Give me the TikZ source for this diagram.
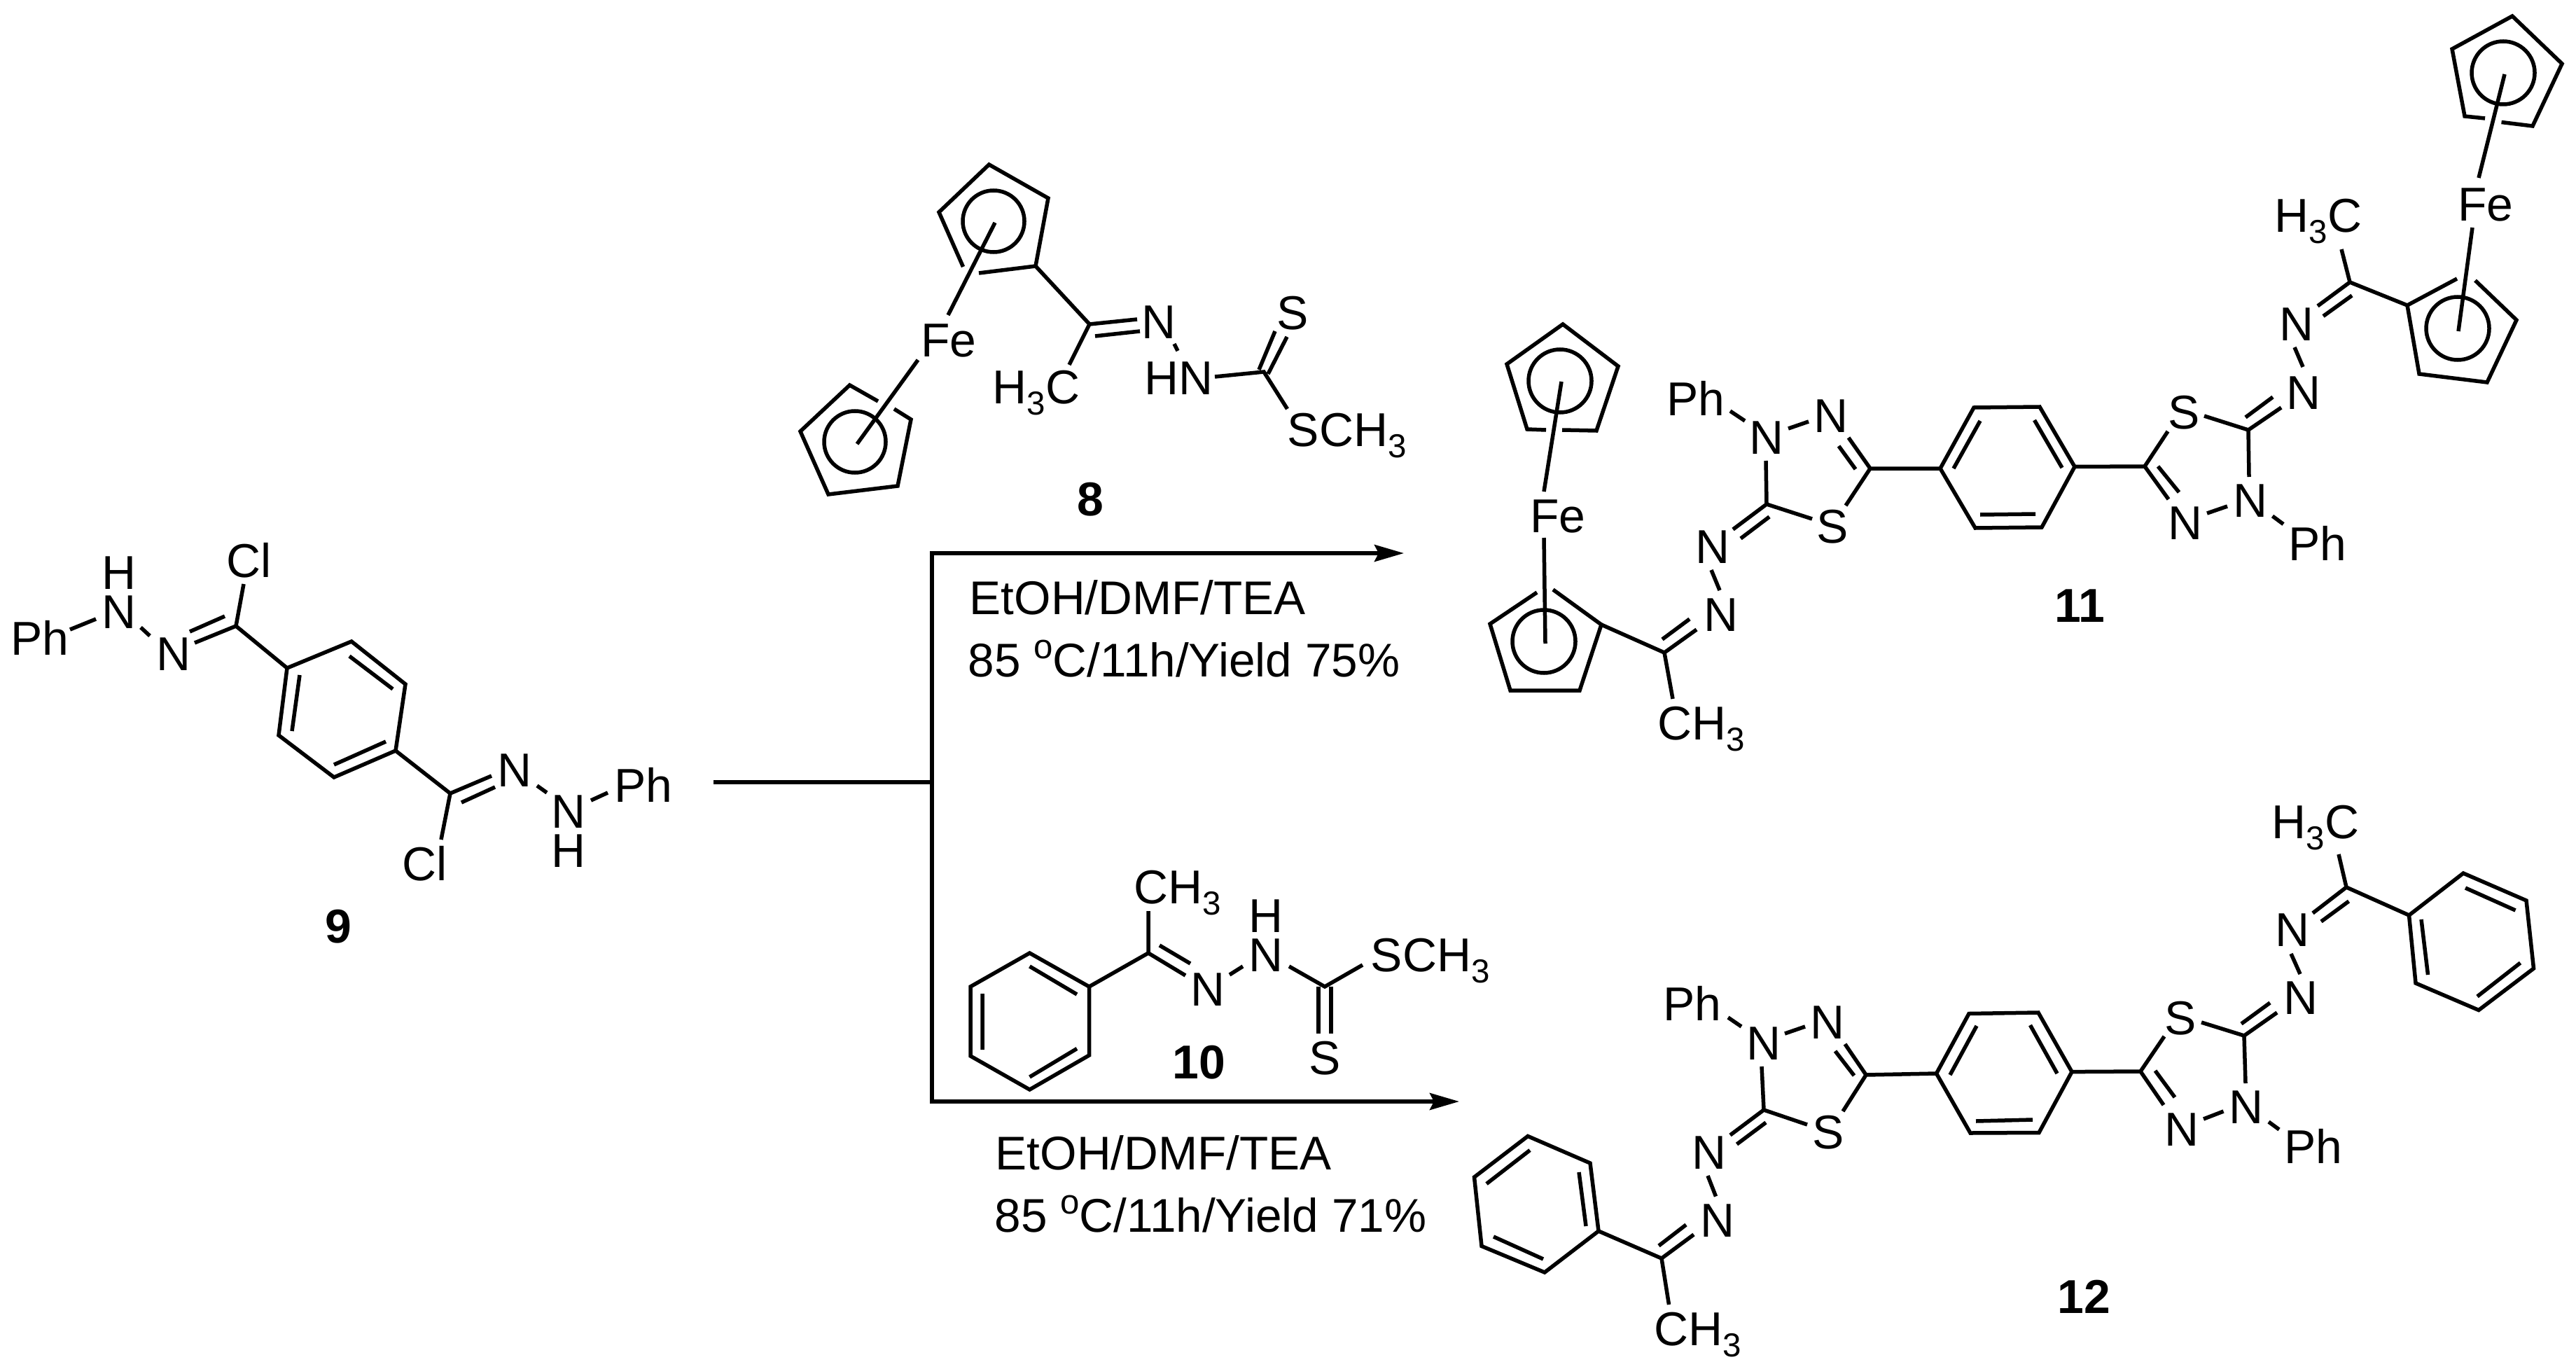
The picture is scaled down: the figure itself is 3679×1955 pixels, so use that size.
\documentclass[tikz,border=0pt]{standalone}
\usepackage{fontspec}
\setmainfont{Liberation Sans}
\usetikzlibrary{arrows.meta}
\newcommand\subn[1]{\raisebox{-0.24em}{\fontsize{13.5}{13.5}\selectfont #1}}
\newcommand\supo{\raisebox{0.38em}{\fontsize{14}{14}\selectfont o}}
\tikzset{
  bond/.style={line width=0.055cm,line cap=butt,line join=miter},
  atm/.style={inner sep=0pt,font=\fontsize{19.3}{19.3}\selectfont,text height=13.8pt,text depth=0pt},
  lbl/.style={inner sep=0pt,font=\fontsize{19.3}{19.3}\selectfont\bfseries,text height=13.8pt,text depth=0pt},
  cond/.style={inner sep=0pt,anchor=west,font=\fontsize{19.2}{19.2}\selectfont,text height=13.8pt,text depth=0pt},
  rxn/.style={line width=0.055cm,line cap=rect,-{Stealth[length=0.42cm,width=0.24cm,inset=0.06cm]}},
  rxnline/.style={line width=0.055cm,line cap=rect}
}
\begin{document}
\begin{tikzpicture}[x=0.01cm,y=-0.01cm]
\useasboundingbox (0,0) rectangle (3679,1955);
\fill[white] (0,0) rectangle (3679,1955);

% reaction arrows
\coordinate (a0) at (1022,1117);
\coordinate (aj) at (1331,1117);
\coordinate (at) at (1331,790);
\coordinate (ab) at (1331,1573);
\coordinate (t1) at (2005,790);
\coordinate (t2) at (2084,1573);
\draw[rxnline] (a0) -- (aj);
\draw[rxnline] (at) -- (ab);
\draw[rxn] (at) -- (t1);
\draw[rxn] (ab) -- (t2);

% ---------- 9 ----------
\node[atm] (p9a) at (57,911) {Ph};
\node[atm] (n9a) at (170,873) {N};
\node[atm] (h9a) at (170,817) {H};
\node[atm] (n9b) at (248,933) {N};
\node[atm] (cl9a) at (356,800) {Cl};
\node[atm] (cl9b) at (607,1233) {Cl};
\node[atm] (n9c) at (735,1099) {N};
\node[atm] (n9d) at (812,1158) {N};
\node[atm] (h9d) at (812,1214) {H};
\node[atm] (p9b) at (919,1121) {Ph};
\node[lbl] (l9) at (483,1322) {9};
\draw[bond] (410,954)--(502,916)--(579,977)--(565,1072)--(477,1110)--(398,1050)--cycle;
\draw[bond] (428,964)--(417,1044) (499,937)--(561,984) (551,1059)--(477,1092);
\draw[bond] (100,899)--(137,884) (201,896)--(214,908) (278,918)--(337,894)--(410,954);
\draw[bond] (271,902)--(321,880) (337,894)--(348,834);
\draw[bond] (565,1072)--(643,1133)--(702,1108) (659,1146)--(707,1124) (643,1133)--(630,1199);
\draw[bond] (767,1122)--(781,1132) (844,1143)--(868,1132);

% ---------- 8 ----------
\node[atm] (fe8) at (1355,485) {Fe};
\node[atm] (n8a) at (1655,459) {N};
\node[atm,anchor=west] (hc8) at (1417,552) {H\subn{3}C};
\node[atm] (hn8) at (1683,539) {HN};
\node[atm] (s8) at (1846,446) {S};
\node[atm,anchor=west] (sc8) at (1838,613) {SCH\subn{3}};
\node[lbl] (l8) at (1557,712) {8};
\draw[bond] (1375.5,381)--(1341,303)--(1412.5,235)--(1497,283)--(1479,380)--(1398,390);
\draw[bond] (1419,316) circle (44);
\draw[bond] (1421,318)--(1354,450) (1311,514)--(1224,634);
\draw[bond] (1254,573)--(1213.5,550)--(1143,616)--(1183,706)--(1282,694)--(1301,599)--(1277,584);
\draw[bond] (1221,631) circle (44);
\draw[bond] (1479,380)--(1556,463)--(1624,456) (1564,480)--(1628,473) (1556,463)--(1527,521);
\draw[bond] (1677,491)--(1682,501) (1735,538)--(1805,531)--(1838.5,584);
\draw[bond] (1821,473)--(1798,528) (1838,481)--(1811,534);

% conditions top
\node[cond] (c1a) at (1384,853) {EtOH/DMF/TEA};
\node[cond] (c1b) at (1382,942) {85 \supo C/11h/Yield 75\%};

% ---------- 10 ----------
\node[atm,anchor=west] (ch10) at (1619,1266) {CH\subn{3}};
\node[atm] (n10a) at (1725,1412) {N};
\node[atm] (n10b) at (1808,1363) {N};
\node[atm] (h10) at (1808,1307) {H};
\node[atm,anchor=west] (sc10) at (1957,1363) {SCH\subn{3}};
\node[atm] (s10) at (1892,1510) {S};
\node[lbl] (l10) at (1712,1516) {10};
\draw[bond] (1470.5,1361)--(1555.5,1409)--(1555.5,1507)--(1470.5,1556)--(1386,1508)--(1386,1409)--cycle;
\draw[bond] (1470.5,1380)--(1538,1420) (1403,1419)--(1403,1499) (1470.5,1538)--(1538,1497.5);
\draw[bond] (1555.5,1409)--(1640,1361)--(1640,1301) (1640,1361)--(1693,1393) (1656,1350)--(1700,1376);
\draw[bond] (1756,1392)--(1775,1380) (1841,1380)--(1892,1409)--(1946,1378);
\draw[bond] (1883,1409)--(1883,1476) (1901,1409)--(1901,1476);

% conditions bottom
\node[cond] (c2a) at (1421,1646) {EtOH/DMF/TEA};
\node[cond] (c2b) at (1420,1735) {85 \supo C/11h/Yield 71\%};

% ---------- 11 ----------
\node[atm] (fe11a) at (2225,736) {Fe};
\node[atm,anchor=west] (ch11) at (2367,1032) {CH\subn{3}};
\node[atm] (n11a) at (2458,877) {N};
\node[atm] (n11b) at (2446,780) {N};
\node[atm] (n11c) at (2523,624) {N};
\node[atm] (p11a) at (2422,569) {Ph};
\node[atm] (n11d) at (2615,593) {N};
\node[atm] (s11a) at (2617,751) {S};
\node[lbl] (l11) at (2970,864) {11};
\node[atm] (s11b) at (3119,588) {S};
\node[atm] (n11e) at (3121,746) {N};
\node[atm] (n11f) at (3214,714) {N};
\node[atm] (p11b) at (3310,776) {Ph};
\node[atm] (n11g) at (3290,560) {N};
\node[atm] (n11h) at (3280,462) {N};
\node[atm,anchor=west] (hc11) at (3248,307) {H\subn{3}C};
\node[atm] (fe11b) at (3550,291) {Fe};
% left ferrocene
\draw[bond] (2208,614)--(2181,613)--(2152,520)--(2232,463)--(2311,523)--(2280,615)--(2231,614);
\draw[bond] (2228,544) circle (45);
\draw[bond] (2230,545)--(2205,702) (2205,768)--(2207,919);
\draw[bond] (2195,846)--(2128,891)--(2157,986)--(2256,986)--(2287,892)--(2218,842);
\draw[bond] (2205,916) circle (45);
\draw[bond] (2287,892)--(2377,932)--(2389,998) (2377,932)--(2423,899) (2374,913)--(2413,884);
\draw[bond] (2444,814)--(2456,843);
\draw[bond] (2475,756)--(2523,720)--(2522,658) (2486,769)--(2527,738);
\draw[bond] (2471,587)--(2492,601) (2554,612)--(2583,602);
\draw[bond] (2588,741)--(2523,720);
\draw[bond] (2640,625)--(2671,669)--(2636,722) (2626,637)--(2650,670) (2671,669)--(2771,669);
% central ring
\draw[bond] (2771,669)--(2819,582)--(2913,581)--(2963,666.5)--(2916,753)--(2821,754)--cycle;
\draw[bond] (2828,601)--(2790,669) (2905.5,600)--(2945,668) (2828,735)--(2907,734);
\draw[bond] (2963,666.5)--(3063,666);
% right part
\draw[bond] (3096,616)--(3063,666)--(3097,713) (3082,666)--(3112,703);
\draw[bond] (3152,733)--(3181,723) (3212,681)--(3211,614)--(3148,594);
\draw[bond] (3211,614)--(3258,582) (3207,596)--(3246,567);
\draw[bond] (3245.5,737)--(3261,748.5) (3277,496)--(3289,524);
\draw[bond] (3310,437)--(3356,403)--(3344,356) (3318,451.5)--(3359,422) (3356,403)--(3438,436);
% right ferrocene
\draw[bond] (3509,398)--(3438,436)--(3455,534)--(3552,546)--(3594,457)--(3535,400.5);
\draw[bond] (3510,469) circle (45);
\draw[bond] (3511,473)--(3531,325) (3540,254)--(3577,106);
\draw[bond] (3549,169)--(3520,166)--(3502,70)--(3588,23)--(3659,91)--(3617,180)--(3572.5,174.5);
\draw[bond] (3575,104) circle (45);

% ---------- 12 ----------
\node[atm,anchor=west] (ch12) at (2362,1897) {CH\subn{3}};
\node[atm] (n12a) at (2453,1742) {N};
\node[atm] (n12b) at (2441,1645) {N};
\node[atm] (n12c) at (2519,1489) {N};
\node[atm] (p12a) at (2417,1433) {Ph};
\node[atm] (n12d) at (2610,1459) {N};
\node[atm] (s12a) at (2611,1616) {S};
\node[lbl] (l12) at (2976,1851) {12};
\node[atm] (s12b) at (3114,1453) {S};
\node[atm] (n12e) at (3116,1612) {N};
\node[atm] (n12f) at (3208,1580) {N};
\node[atm] (p12b) at (3304,1637) {Ph};
\node[atm] (n12g) at (3286,1424) {N};
\node[atm] (n12h) at (3274,1327) {N};
\node[atm,anchor=west] (hc12) at (3244,1173) {H\subn{3}C};
% left phenyl
\draw[bond] (2182,1622.5)--(2271,1661)--(2283,1758)--(2206,1817)--(2116,1779.5)--(2105.5,1681)--cycle;
\draw[bond] (2185,1642.5)--(2123,1690.5) (2255,1674)--(2265,1751) (2133,1766)--(2204,1798);
\draw[bond] (2283,1758)--(2373,1797)--(2383.5,1863) (2373,1797)--(2419,1763) (2369,1779)--(2408,1749);
\draw[bond] (2439,1679)--(2450.5,1708.5);
\draw[bond] (2471,1621)--(2519,1585)--(2516,1523) (2480.5,1634)--(2522,1603) (2519,1585)--(2581,1606);
\draw[bond] (2468,1453)--(2487,1466) (2549,1476)--(2578,1466);
\draw[bond] (2635,1491)--(2665,1535)--(2632,1587) (2621,1501)--(2648,1536) (2665,1535)--(2765.5,1533);
% central ring
\draw[bond] (2765.5,1533)--(2812,1447.5)--(2911,1446)--(2959,1530.6)--(2912,1617.5)--(2814,1618)--cycle;
\draw[bond] (2823,1465)--(2785,1535) (2899.5,1464)--(2938,1533) (2822,1601)--(2903,1599);
\draw[bond] (2959,1530.6)--(3057,1530);
% right part
\draw[bond] (3091,1480)--(3057,1530)--(3090,1578) (3078,1529)--(3106,1567);
\draw[bond] (3147,1598)--(3175.5,1587) (3207,1547)--(3205,1479)--(3144,1460);
\draw[bond] (3205,1479)--(3252,1446) (3201,1462)--(3242,1432);
\draw[bond] (3240,1602)--(3255,1613) (3272,1362)--(3285,1391);
\draw[bond] (3303,1304)--(3351,1267)--(3340,1220) (3315,1316)--(3354.5,1287) (3351,1267)--(3440.5,1307);
\draw[bond] (3440.5,1307)--(3518,1247)--(3608,1286)--(3618.5,1383)--(3540,1442.5)--(3450,1404)--cycle;
\draw[bond] (3521,1268)--(3592.5,1300) (3458,1313)--(3467.5,1392) (3599.5,1375)--(3538,1423);
\end{tikzpicture}
\end{document}
